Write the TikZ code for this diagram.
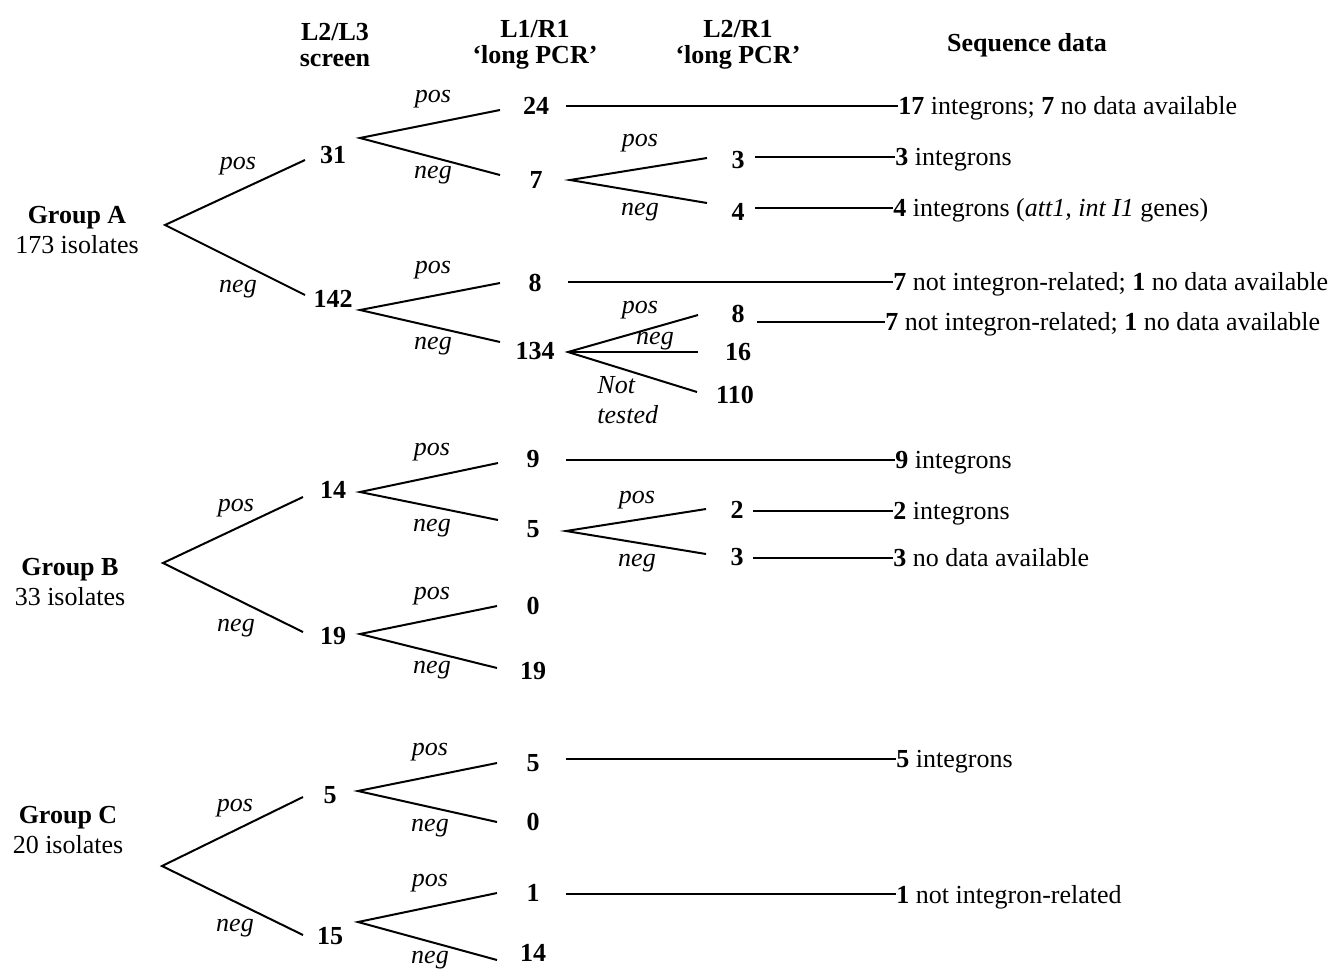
\documentclass[tikz,border=0pt]{standalone}
\usepackage{fontspec}
\setmainfont{Liberation Serif}
\begin{document}
\begin{tikzpicture}[x=0.5pt,y=-0.5pt,
  every node/.style={inner sep=0pt,font=\fontsize{13}{15}\selectfont},
  num/.style={font=\fontsize{13}{15}\selectfont\bfseries},
  lab/.style={font=\fontsize{13}{15}\selectfont\itshape},
  head/.style={align=center,font=\fontsize{13}{13}\selectfont\bfseries},
  seq/.style={anchor=base west},
  br/.style={line width=1pt}]
\useasboundingbox (0,0) rectangle (1332,970);

% headers
\node[head] (h1) at (335,45) {L2/L3\\screen};
\node[head] (h2) at (535,45) {L1/R1\\‘long PCR’};
\node[head] (h3) at (738,45) {L2/R1\\‘long PCR’};
\node[head] (h4) at (1027,45) {Sequence data};

% groups
\node[align=center] (gA) at (77,230) {\textbf{Group A}\\173 isolates};
\node[align=center] (gB) at (70,582) {\textbf{Group B}\\33 isolates};
\node[align=center] (gC) at (68,830) {\textbf{Group C}\\20 isolates};

% numbers
\node[num] (n31) at (333,155) {31};
\node[num] (n142) at (333,299) {142};
\node[num] (n24) at (536,106) {24};
\node[num] (n7) at (536,180) {7};
\node[num] (n3) at (738,160) {3};
\node[num] (n4) at (738,212) {4};
\node[num] (n8) at (535,283) {8};
\node[num] (n134) at (535,351) {134};
\node[num] (n8b) at (738,314) {8};
\node[num] (n16) at (738,352) {16};
\node[num] (n110) at (735,395) {110};
\node[num] (n14) at (333,490) {14};
\node[num] (n19) at (333,636) {19};
\node[num] (n9) at (533,459) {9};
\node[num] (n5) at (533,529) {5};
\node[num] (n2) at (737,510) {2};
\node[num] (n3b) at (737,557) {3};
\node[num] (n0) at (533,606) {0};
\node[num] (n19b) at (533,671) {19};
\node[num] (n5c) at (330,795) {5};
\node[num] (n15) at (330,936) {15};
\node[num] (n5d) at (533,763) {5};
\node[num] (n0c) at (533,822) {0};
\node[num] (n1) at (533,893) {1};
\node[num] (n14c) at (533,953) {14};

% branch labels
\node[lab] (lA1) at (238,166) {pos};
\node[lab] (lA2) at (238,289) {neg};
\node[lab] (l311) at (433,99) {pos};
\node[lab] (l312) at (433,175) {neg};
\node[lab] (l71) at (640,143) {pos};
\node[lab] (l72) at (640,212) {neg};
\node[lab] (l1421) at (433,270) {pos};
\node[lab] (l1422) at (433,346) {neg};
\node[lab] (l1341) at (640,310) {pos};
\node[lab] (l1342) at (655,341) {neg};
\node[lab,align=left,anchor=west] (l1343) at (597,400) {Not\\tested};
\node[lab] (lB1) at (236,508) {pos};
\node[lab] (lB2) at (236,628) {neg};
\node[lab] (l141) at (432,452) {pos};
\node[lab] (l142) at (432,528) {neg};
\node[lab] (l51) at (637,500) {pos};
\node[lab] (l52) at (637,563) {neg};
\node[lab] (l191) at (432,596) {pos};
\node[lab] (l192) at (432,670) {neg};
\node[lab] (lC1) at (235,808) {pos};
\node[lab] (lC2) at (235,928) {neg};
\node[lab] (l5c1) at (430,752) {pos};
\node[lab] (l5c2) at (430,828) {neg};
\node[lab] (l151) at (430,883) {pos};
\node[lab] (l152) at (430,960) {neg};

% apex and end coordinates
\coordinate (aA) at (165,225);  \coordinate (eA1) at (305,160);  \coordinate (eA2) at (305,295);
\coordinate (a31) at (360,138); \coordinate (e311) at (500,110); \coordinate (e312) at (500,175);
\coordinate (a7) at (570,180);  \coordinate (e71) at (707,158);  \coordinate (e72) at (707,203);
\coordinate (a142) at (360,310); \coordinate (e1421) at (500,283); \coordinate (e1422) at (500,342);
\coordinate (a134) at (568,352); \coordinate (e1341) at (698,315); \coordinate (e1342) at (698,352); \coordinate (e1343) at (697,392);
\coordinate (aB) at (163,563);  \coordinate (eB1) at (303,497);  \coordinate (eB2) at (303,632);
\coordinate (a14) at (360,492); \coordinate (e141) at (498,463); \coordinate (e142) at (498,520);
\coordinate (a5) at (566,531);  \coordinate (e51) at (706,509);  \coordinate (e52) at (706,554);
\coordinate (a19) at (360,634); \coordinate (e191) at (497,606); \coordinate (e192) at (497,668);
\coordinate (aC) at (162,866);  \coordinate (eC1) at (303,797);  \coordinate (eC2) at (303,935);
\coordinate (a5c) at (358,791); \coordinate (e5c1) at (497,763); \coordinate (e5c2) at (497,822);
\coordinate (a15) at (358,922); \coordinate (e151) at (497,893); \coordinate (e152) at (497,960);

\draw[br] (eA1) -- (aA) -- (eA2);
\draw[br] (e311) -- (a31) -- (e312);
\draw[br] (e71) -- (a7) -- (e72);
\draw[br] (e1421) -- (a142) -- (e1422);
\draw[br] (e1341) -- (a134) -- (e1343);
\draw[br] (a134) -- (e1342);
\draw[br] (eB1) -- (aB) -- (eB2);
\draw[br] (e141) -- (a14) -- (e142);
\draw[br] (e51) -- (a5) -- (e52);
\draw[br] (e191) -- (a19) -- (e192);
\draw[br] (eC1) -- (aC) -- (eC2);
\draw[br] (e5c1) -- (a5c) -- (e5c2);
\draw[br] (e151) -- (a15) -- (e152);

% sequence data
\node[seq] (t24) at (898,114) {\textbf{17} integrons; \textbf{7} no data available};
\node[seq] (t3) at (895,165) {\textbf{3} integrons};
\node[seq] (t4) at (893,216) {\textbf{4} integrons (\textit{att1, int I1} genes)};
\node[seq] (t8) at (893,290) {\textbf{7} not integron-related; \textbf{1} no data available};
\node[seq] (t8b) at (885,330) {\textbf{7} not integron-related; \textbf{1} no data available};
\node[seq] (t9) at (895,468) {\textbf{9} integrons};
\node[seq] (t2) at (893,519) {\textbf{2} integrons};
\node[seq] (t3b) at (893,566) {\textbf{3} no data available};
\node[seq] (t5) at (896,767) {\textbf{5} integrons};
\node[seq] (t1) at (896,903) {\textbf{1} not integron-related};

\coordinate (s24) at (566,106);
\coordinate (s3) at (755,157);
\coordinate (s4) at (755,208);
\coordinate (s8) at (568,282);
\coordinate (s8b) at (757,322);
\coordinate (s9) at (566,460);
\coordinate (s2) at (753,511);
\coordinate (s3b) at (753,558);
\coordinate (s5) at (566,759);
\coordinate (s1) at (566,894);

\draw[br] (s24) -- (s24 -| t24.west);
\draw[br] (s3) -- (s3 -| t3.west);
\draw[br] (s4) -- (s4 -| t4.west);
\draw[br] (s8) -- (s8 -| t8.west);
\draw[br] (s8b) -- (s8b -| t8b.west);
\draw[br] (s9) -- (s9 -| t9.west);
\draw[br] (s2) -- (s2 -| t2.west);
\draw[br] (s3b) -- (s3b -| t3b.west);
\draw[br] (s5) -- (s5 -| t5.west);
\draw[br] (s1) -- (s1 -| t1.west);
\end{tikzpicture}
\end{document}
